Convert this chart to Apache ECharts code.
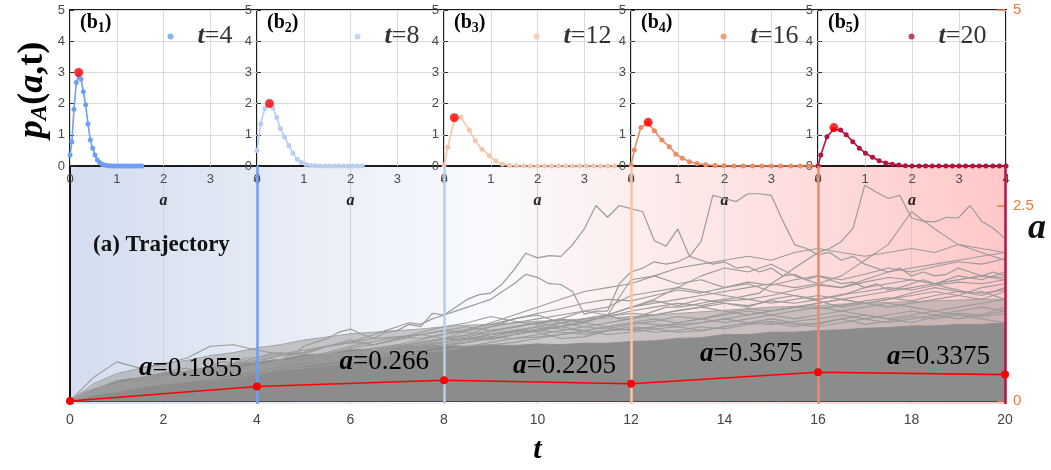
<!DOCTYPE html>
<html><head><meta charset="utf-8">
<script src="https://cdn.jsdelivr.net/npm/echarts@6/dist/echarts.min.js"></script>
<style>html,body{margin:0;padding:0;background:#fff}#c{width:1051px;height:470px}</style>
</head><body><div id="c"></div>
<script>
// ---------- DATA ----------
const tVals = [0,0.5,1,1.5,2,2.5,3,3.5,4,4.5,5,5.5,6,6.5,7,7.5,8,8.5,9,9.5,10,10.5,11,11.5,12,12.5,13,13.5,14,14.5,15,15.5,16,16.5,17,17.5,18,18.5,19,19.5,20];
const tFine = [0,0.25,0.5,0.75,1,1.25,1.5,1.75,2,2.25,2.5,2.75,3,3.25,3.5,3.75,4,4.25,4.5,4.75,5,5.25,5.5,5.75,6,6.25,6.5,6.75,7,7.25,7.5,7.75,8,8.25,8.5,8.75,9,9.25,9.5,9.75,10,10.25,10.5,10.75,11,11.25,11.5,11.75,12,12.25,12.5,12.75,13,13.25,13.5,13.75,14,14.25,14.5,14.75,15,15.25,15.5,15.75,16,16.25,16.5,16.75,17,17.25,17.5,17.75,18,18.25,18.5,18.75,19,19.25,19.5,19.75,20];
// edges of the dense and semi-dense bundles of trajectories
const denseTop = [0,0.14,0.26,0.3,0.36,0.38,0.44,0.46,0.5,0.53,0.59,0.6,0.66,0.66,0.69,0.7,0.71,0.7,0.72,0.71,0.73,0.72,0.74,0.74,0.76,0.77,0.8,0.81,0.85,0.85,0.88,0.88,0.9,0.91,0.93,0.94,0.96,0.96,0.98,0.98,1.0];
const midTop = [0,0.22,0.35,0.42,0.48,0.52,0.58,0.62,0.68,0.72,0.78,0.82,0.86,0.88,0.9,0.92,0.95,0.97,0.98,1.0,1.02,1.03,1.05,1.06,1.08,1.1,1.12,1.14,1.16,1.18,1.2,1.21,1.22,1.24,1.25,1.26,1.27,1.28,1.29,1.3,1.3];
// prominent trajectories (0.25 time step)
const trajA = [0,0.1,0.15,0.2, 0.25,0.22,0.3,0.32, 0.35,0.4,0.42,0.38, 0.45,0.5,0.48,0.55, 0.55,0.6,0.62,0.58, 0.7,0.75,0.8,0.88, 0.92,0.85,0.8,0.88, 0.9,0.98,0.95,1.12, 1.1,1.2,1.3,1.36, 1.38,1.5,1.68,1.89, 1.83,1.86,1.85,2.0, 2.2,2.5,2.35,2.5, 2.46,2.42,2.05,1.98, 2.2,1.85,1.8,1.75, 1.78,1.7,1.72,1.65, 1.7,1.6,1.62,1.55, 1.6,1.55,1.5,1.52, 1.45,1.5,1.42,1.45, 1.5,1.55,1.5,1.45, 1.42,1.38,1.4,1.35, 1.3];
const trajB = [0,0.08,0.12,0.18, 0.2,0.25,0.22,0.28, 0.3,0.32,0.38,0.35, 0.4,0.42,0.45,0.5, 0.48,0.55,0.52,0.6, 0.6,0.65,0.7,0.72, 0.75,0.8,0.85,0.9, 0.95,1.0,0.98,1.05, 1.1,1.15,1.2,1.25, 1.3,1.4,1.5,1.62, 1.58,1.5,1.49,1.4, 1.11,1.15,1.15,1.5, 1.65,1.7,1.78,1.75, 1.78,1.85,2.04,2.63, 2.59,2.55,2.65,2.65, 2.63,2.3,2.0,1.95, 1.87,1.9,1.8,1.85, 1.75,1.7,1.65,1.7, 1.6,1.65,1.6,1.62, 1.7,1.65,1.6,1.65, 1.6];
const trajE = [0,0.06,0.1,0.15, 0.18,0.2,0.22,0.25, 0.28,0.26,0.3,0.32, 0.33,0.36,0.38,0.4, 0.42,0.44,0.45,0.48, 0.5,0.52,0.55,0.58, 0.6,0.58,0.62,0.65, 0.65,0.68,0.7,0.72, 0.75,0.78,0.8,0.82, 0.85,0.88,0.9,0.92, 0.95,0.98,1.0,1.02, 1.05,1.08,1.1,1.05, 1.05,1.1,1.15,1.2, 1.2,1.22,1.25,1.28, 1.3,1.32,1.35,1.38, 1.5,1.6,1.7,1.8, 1.9,1.95,2.04,2.21, 2.76,2.67,2.59,2.63, 2.34,2.3,2.29,2.35, 2.34,2.5,2.3,2.21, 2.08];
// further visible trajectories (0.5 time step)
const trajF = [0,0.08,0.15,0.2,0.25,0.3,0.35,0.38,0.4,0.45,0.5,0.52,0.55,0.6,0.65,0.7,0.72,0.75,0.8,0.85,0.9,1.0,1.05,1.1,1.2,1.25,1.3,1.35,1.4,1.45,1.5,1.45,1.5,1.6,1.8,2.0,2.42,2.2,2.0,1.9,1.8];
const trajG = [0,0.1,0.15,0.2,0.25,0.3,0.32,0.35,0.4,0.45,0.5,0.55,0.6,0.65,0.7,0.75,0.8,0.9,1.0,1.1,1.2,1.3,1.4,1.45,1.5,1.6,1.7,1.75,1.8,1.85,1.8,1.9,1.95,1.9,1.85,1.9,1.95,1.9,2.0,1.95,1.9];
const trajH = [0,0.12,0.2,0.25,0.3,0.33,0.38,0.42,0.45,0.5,0.55,0.6,0.62,0.65,0.7,0.72,0.75,0.8,0.85,0.88,0.9,0.95,1.0,1.1,1.55,1.6,1.5,1.55,1.45,1.5,1.4,1.35,1.3,1.35,1.45,1.5,1.55,1.5,1.6,1.55,1.65];
const trajI = [0,0.1,0.18,0.22,0.28,0.32,0.35,0.4,0.45,0.48,0.52,0.58,0.62,0.68,0.72,0.78,0.85,0.9,0.95,1.0,1.05,1.1,1.15,1.2,1.35,1.4,1.45,1.4,1.35,1.3,1.25,1.3,1.35,1.3,1.25,1.2,1.25,1.3,1.35,1.3,1.4];
const trajJ = [0,0.1,0.15,0.2,0.22,0.25,0.3,0.35,0.4,0.45,0.5,0.55,0.6,0.62,0.7,0.75,0.8,0.85,0.95,1.05,1.1,1.0,0.95,1.0,1.05,1.1,1.15,1.2,1.15,1.1,1.15,1.2,1.25,1.3,1.35,1.4,1.45,1.5,1.55,1.6,1.55];
const trajK = [0,0.08,0.12,0.18,0.22,0.25,0.28,0.3,0.35,0.4,0.42,0.45,0.5,0.55,0.6,0.62,0.65,0.7,0.72,0.75,0.8,0.85,0.9,0.95,1.0,1.05,1.0,1.05,1.1,1.15,1.1,1.05,1.1,1.15,1.2,1.25,1.2,1.15,1.2,1.25,1.3];
const trajL = [0,0.1,0.16,0.2,0.25,0.3,0.35,0.38,0.42,0.48,0.55,0.6,0.68,0.72,0.78,0.85,0.9,0.95,0.9,0.95,1.0,1.05,1.0,0.95,0.9,0.95,1.0,1.05,1.0,1.05,1.1,1.15,1.2,1.15,1.1,1.05,1.1,1.15,1.1,1.05,1.0];
const trajM = [0,0.1,0.14,0.18,0.22,0.26,0.3,0.34,0.38,0.42,0.46,0.5,0.54,0.58,0.62,0.66,0.7,0.75,0.8,0.85,0.9,0.95,1.0,1.1,1.2,1.3,1.45,1.6,1.7,1.65,1.75,1.6,1.5,1.45,1.55,1.65,1.7,1.75,1.8,1.85,1.9];
const trajN = [0,0.12,0.22,0.28,0.32,0.38,0.42,0.48,0.55,0.6,0.65,0.7,0.75,0.8,0.82,0.85,0.9,0.88,0.85,0.9,0.95,0.92,0.9,0.95,1.0,0.98,0.95,1.0,1.05,1.0,0.98,1.02,1.05,1.1,1.05,1.0,1.05,1.1,1.15,1.2,1.15];
const trajO = [0,0.1,0.18,0.22,0.25,0.28,0.32,0.36,0.4,0.45,0.48,0.52,0.58,0.65,0.7,0.72,0.78,0.82,0.88,0.95,1.0,0.95,0.9,0.85,0.88,0.92,0.95,0.9,0.95,1.0,1.02,0.98,0.95,1.0,1.05,1.1,1.15,1.1,1.05,1.1,1.2];
const trajP = [0,0.1,0.15,0.2,0.24,0.28,0.3,0.34,0.38,0.4,0.45,0.5,0.52,0.55,0.6,0.62,0.65,0.7,0.75,0.8,0.82,0.85,0.88,0.9,0.92,0.95,0.98,1.0,1.05,1.1,1.15,1.2,1.25,1.3,1.25,1.3,1.35,1.4,1.35,1.45,1.5];
const trajQ = [0,0.3,0.5,0.42,0.47,0.55,0.7,0.72,0.65,0.6,0.62,0.7,0.75,0.72,0.8,0.85,0.8,0.78,0.85,0.9,0.88,0.8,0.82,0.9,0.95,0.92,0.88,0.9,0.95,1.0,1.05,1.0,0.98,1.05,1.1,1.05,1.0,1.08,1.12,1.1,1.15];
const trajR = [0,0.1,0.2,0.3,0.28,0.35,0.4,0.48,0.52,0.58,0.62,0.7,0.78,0.72,0.8,0.88,0.95,1.0,1.08,1.02,0.98,1.05,1.15,1.1,1.2,1.28,1.22,1.3,1.25,1.2,1.3,1.35,1.28,1.2,1.25,1.3,1.38,1.45,1.4,1.35,1.45];
const trajS = [0,0.12,0.18,0.25,0.3,0.36,0.4,0.38,0.44,0.5,0.55,0.6,0.58,0.66,0.72,0.7,0.75,0.8,0.78,0.85,0.9,0.88,0.85,0.9,0.92,0.88,0.9,0.95,0.92,0.98,1.0,0.95,1.0,1.05,0.98,1.02,1.08,1.05,1.1,1.08,1.12];
const trajT = [0,0.1,0.14,0.2,0.26,0.3,0.34,0.4,0.46,0.5,0.56,0.62,0.7,0.76,0.82,0.8,0.86,0.92,0.98,1.05,1.12,1.18,1.25,1.3,1.28,1.35,1.42,1.38,1.45,1.52,1.48,1.55,1.6,1.55,1.62,1.7,1.65,1.72,1.78,1.75,1.82];
const trajU = [0,0.08,0.15,0.18,0.24,0.3,0.35,0.4,0.45,0.52,0.5,0.58,0.62,0.6,0.68,0.75,0.8,0.78,0.82,0.88,0.92,0.96,1.02,1.08,1.15,1.2,1.25,1.22,1.28,1.3,1.35,1.42,1.48,1.45,1.52,1.58,1.55,1.5,1.55,1.6,1.58];
const trajV = [0,0.15,0.2,0.24,0.3,0.32,0.38,0.42,0.4,0.45,0.5,0.55,0.6,0.65,0.62,0.68,0.72,0.78,0.82,0.8,0.85,0.9,0.95,0.92,0.98,1.02,1.08,1.05,1.12,1.18,1.15,1.2,1.18,1.22,1.28,1.32,1.28,1.35,1.4,1.38,1.42];
const trajW = [0,0.1,0.16,0.22,0.28,0.3,0.32,0.36,0.42,0.46,0.5,0.54,0.6,0.64,0.7,0.74,0.8,0.84,0.9,0.94,1.0,1.04,1.02,1.08,1.12,1.1,1.16,1.2,1.25,1.22,1.28,1.25,1.3,1.36,1.4,1.45,1.42,1.48,1.52,1.5,1.55];

// mode of the distribution at the sampled times
const sampleTimes = [4, 8, 12, 16, 20];
const modeValues = [0.1855, 0.266, 0.2205, 0.3675, 0.3375];
const sampleColors = ['#6f9ef7', '#b8cdf2', '#f6c5a9', '#ef8a62', '#b4143e'];

// inset distributions p_A(a,t)
const inset1A = [0,0.04,0.085,0.135,0.185,0.235,0.285,0.335,0.385,0.435,0.485,0.535,0.585,0.635,0.685,0.735,0.785,0.835,0.885,0.935,0.985,1.035,1.085,1.135,1.185,1.235,1.285,1.335,1.385,1.435,1.485,1.535];
const inset1P = [0.35,0.78,1.82,2.68,2.88,2.79,2.38,1.96,1.35,0.83,0.57,0.35,0.19,0.11,0.06,0.03,0.015,0.01,0,0,0,0,0,0,0,0,0,0,0,0,0,0];
const inset2A = [0,0.08,0.17,0.26,0.34,0.42,0.5,0.59,0.68,0.77,0.86,0.95,1.05,1.15,1.25,1.35,1.45,1.55,1.65,1.75,1.85,1.95,2.05,2.15,2.25];
const inset2P = [0.5,1.35,1.85,1.98,1.86,1.56,1.2,0.93,0.66,0.41,0.22,0.11,0.05,0.02,0.01,0,0,0,0,0,0,0,0,0,0];
const inset3A = [0,0.08,0.22,0.36,0.54,0.67,0.81,0.97,1.11,1.25,1.4,1.55,1.7,1.85,2.0,2.15,2.3,2.45,2.6,2.75,2.9,3.05,3.2,3.35,3.5,3.65];
const inset3P = [0.03,0.6,1.5,1.56,1.15,0.81,0.54,0.33,0.16,0.06,0.02,0.01,0,0,0,0,0,0,0,0,0,0,0,0,0,0];
const inset4A = [0,0.07,0.21,0.36,0.5,0.66,0.82,0.96,1.1,1.25,1.41,1.6,1.8,1.99,2.2,2.4,2.6,2.8,3.0,3.2,3.42,3.62,3.81,4.0];
const inset4P = [0.03,0.51,1.23,1.38,1.13,0.83,0.62,0.38,0.25,0.14,0.08,0.04,0.02,0.01,0,0,0,0,0,0,0,0,0,0];
const inset5A = [0,0.06,0.19,0.33,0.48,0.6,0.74,0.88,1.01,1.16,1.3,1.44,1.58,1.72,1.86,2.0,2.15,2.29,2.43,2.57,2.72,2.86,3.0,3.14,3.29,3.43,3.57,3.72,3.86,4.0];
const inset5P = [0,0.35,0.94,1.17,1.15,1.0,0.78,0.57,0.41,0.28,0.17,0.1,0.06,0.03,0.01,0,0,0,0,0,0,0,0,0,0,0,0,0,0,0];
const peakP = [3.0, 2.0, 1.55, 1.4, 1.23];
const legendA = [2.15, 2.15, 1.98, 1.98, 1.99];
const legendP = [4.15, 4.15, 4.15, 4.15, 4.15];
const insetTags = ['1', '2', '3', '4', '5'];

const mainXTicks = [0, 20, 2];
const rightYTicks = [0, 5, 2.5];

// ---------- CHART ----------
const SERIF = "'Liberation Serif','Times New Roman',serif";
const SANS = "'Liberation Sans',Arial,sans-serif";
const insetA = [inset1A, inset2A, inset3A, inset4A, inset5A];
const insetP = [inset1P, inset2P, inset3P, inset4P, inset5P];
const fineTrajs = [trajA, trajB, trajE];
const coarseTrajs = [trajF, trajG, trajH, trajI, trajJ, trajK, trajL, trajM, trajN, trajO, trajP, trajQ, trajR, trajS, trajT, trajU, trajV, trajW];

const chart = echarts.init(document.getElementById('c'));
const grids = [
  { left: 70, right: 46, top: 166, bottom: 66, show: true, borderWidth: 0,
    backgroundColor: new echarts.graphic.LinearGradient(0, 0, 1, 0, [
      { offset: 0, color: '#d3ddef' }, { offset: 0.45, color: '#f9fafd' },
      { offset: 0.6, color: '#fdeeee' }, { offset: 1, color: '#ffc8c8' }]) },
  { left: 70, right: 46, top: 10, bottom: 66 }
];
const xAxes = [
  { gridIndex: 0, type: 'value', min: mainXTicks[0], max: mainXTicks[1], interval: mainXTicks[2],
    axisLine: { show: false }, axisTick: { show: false }, axisLabel: { show: false },
    splitLine: { show: true, lineStyle: { color: '#cfcfcf', width: 1 } } },
  { gridIndex: 1, type: 'value', min: mainXTicks[0], max: mainXTicks[1], interval: mainXTicks[2],
    axisLine: { show: true, onZero: false, lineStyle: { color: '#4a4a4a', width: 2 } },
    axisTick: { show: true, inside: true, length: 4, lineStyle: { color: '#4a4a4a' } },
    axisLabel: { color: '#444', fontSize: 14, fontFamily: SANS, margin: 12 },
    splitLine: { show: false },
    name: 't', nameLocation: 'middle', nameGap: 34,
    nameTextStyle: { fontFamily: SERIF, fontSize: 30, fontWeight: 'bold', fontStyle: 'italic', color: '#000' } }
];
const yAxes = [
  { gridIndex: 0, type: 'value', min: 0, max: 1, position: 'left',
    axisLine: { show: true, onZero: false, lineStyle: { color: '#111', width: 2 } }, axisTick: { show: false },
    axisLabel: { show: false }, splitLine: { show: false } },
  { gridIndex: 1, type: 'value', min: rightYTicks[0], max: rightYTicks[1], interval: rightYTicks[2], position: 'right',
    axisLine: { show: false, onZero: false }, axisTick: { show: true, inside: true, length: 8, lineStyle: { color: '#ee7a3e', width: 1.5 } },
    axisLabel: { color: '#ee7a3e', fontSize: 15, fontFamily: SANS, margin: 8 },
    splitLine: { show: false } }
];
const series = [];
// semi-dense and dense bundles
series.push({ type: 'line', xAxisIndex: 1, yAxisIndex: 1, data: tVals.map((t, i) => [t, midTop[i]]),
  symbol: 'none', lineStyle: { color: '#a3a3a3', width: 1 }, areaStyle: { color: '#a0a0a0', opacity: 0.55 }, z: 2, silent: true });
series.push({ type: 'line', xAxisIndex: 1, yAxisIndex: 1, data: tVals.map((t, i) => [t, denseTop[i]]),
  symbol: 'none', lineStyle: { color: '#8f8f8f', width: 1 }, areaStyle: { color: '#8c8c8c', opacity: 1 }, z: 2, silent: true });
coarseTrajs.forEach(tr => series.push({ type: 'line', xAxisIndex: 1, yAxisIndex: 1,
  data: tVals.map((t, i) => [t, tr[i]]), symbol: 'none', lineStyle: { color: '#9b9b9b', width: 1.1 }, z: 2, silent: true }));
fineTrajs.forEach(tr => series.push({ type: 'line', xAxisIndex: 1, yAxisIndex: 1,
  data: tFine.map((t, i) => [t, tr[i]]), symbol: 'none', lineStyle: { color: '#9b9b9b', width: 1.2 }, z: 2, silent: true }));
// vertical coloured lines at sampled times
series.push({ type: 'line', xAxisIndex: 0, yAxisIndex: 0, data: [], z: 3,
  markLine: { symbol: 'none', silent: true, label: { show: false }, animation: false,
    data: sampleTimes.map((t, i) => ({ xAxis: t, lineStyle: { color: sampleColors[i], width: 2.5, type: 'solid' } })) } });
// red mode line
series.push({ type: 'line', xAxisIndex: 1, yAxisIndex: 1, z: 5,
  data: [[0, 0]].concat(sampleTimes.map((t, i) => [t, modeValues[i]])),
  symbol: 'circle', symbolSize: 8, itemStyle: { color: '#ff0000' }, lineStyle: { color: '#ff0000', width: 1.6 },
  label: { show: true, position: 'left', distance: 5, offset: [-6, -18],
    formatter: p => p.dataIndex === 0 ? '' : '{i|a}{n|=' + modeValues[p.dataIndex - 1] + '}',
    rich: { i: { fontFamily: SERIF, fontSize: 27, fontWeight: 'bold', fontStyle: 'italic', color: '#000' },
            n: { fontFamily: SERIF, fontSize: 27, color: '#000' } } } });

const graphics = [];
for (let k = 0; k < 5; k++) {
  const gi = k + 2;
  grids.push({ left: 70 + 187 * k, width: k === 4 ? 188 : 187, top: 10, height: 156, show: true,
    backgroundColor: '#ffffff', borderColor: '#1c1c1c', borderWidth: 2 });
  xAxes.push({ gridIndex: gi, type: 'value', min: 0, max: 4, interval: 1,
    axisLine: { show: true, lineStyle: { color: '#1c1c1c', width: 1 } }, axisTick: { show: false },
    axisLabel: { color: '#4a4a4a', fontSize: 13, fontFamily: SANS, margin: 7 },
    splitLine: { show: true, lineStyle: { color: '#dadada' } },
    name: 'a', nameLocation: 'middle', nameGap: 27,
    nameTextStyle: { fontFamily: SERIF, fontSize: 16, fontWeight: 'bold', fontStyle: 'italic', color: '#222' } });
  yAxes.push({ gridIndex: gi, type: 'value', min: 0, max: 5, interval: 1,
    axisLine: { show: false, onZero: false }, axisTick: { show: true, inside: true, length: 4, lineStyle: { color: '#333' } },
    axisLabel: { color: '#4a4a4a', fontSize: 13, fontFamily: SANS, margin: 5 },
    splitLine: { show: true, lineStyle: { color: '#dadada' } } });
  series.push({ type: 'line', xAxisIndex: gi, yAxisIndex: gi, z: 4,
    data: insetA[k].map((a, i) => [a, insetP[k][i]]), symbol: 'circle', symbolSize: 5, showAllSymbol: true,
    itemStyle: { color: sampleColors[k] }, lineStyle: { color: sampleColors[k], width: 1.6 } });
  series.push({ type: 'scatter', xAxisIndex: gi, yAxisIndex: gi, z: 6,
    data: [[modeValues[k], peakP[k]]], symbolSize: 9, itemStyle: { color: '#ff0000' } });
  series.push({ type: 'scatter', xAxisIndex: gi, yAxisIndex: gi, z: 6,
    data: [[legendA[k], legendP[k]]], symbolSize: 6, itemStyle: { color: sampleColors[k] },
    label: { show: true, position: 'right', distance: 24, formatter: '{i|t}{n|=' + sampleTimes[k] + '}',
      rich: { i: { fontFamily: SERIF, fontSize: 26, fontWeight: 'bold', fontStyle: 'italic', color: '#000' },
              n: { fontFamily: SERIF, fontSize: 26, color: '#000' } } } });
  graphics.push({ type: 'text', left: 80 + 187 * k, top: 13, z: 20,
    style: { text: '{b|(b}{s|' + insetTags[k] + '}{b|)}',
      rich: { b: { fontFamily: SERIF, fontSize: 20, fontWeight: 'bold', color: '#222', lineHeight: 24 },
              s: { fontFamily: SERIF, fontSize: 14, fontWeight: 'bold', color: '#222', lineHeight: 14, verticalAlign: 'bottom' } } } });
}
graphics.push({ type: 'text', x: 33, y: 90, rotation: Math.PI / 2, z: 20,
  style: { text: '{p|p}{s|A}{b|(}{p|a}{b|,t)}', align: 'center', verticalAlign: 'middle',
    rich: { p: { fontFamily: SERIF, fontSize: 36, fontWeight: 'bold', fontStyle: 'italic', color: '#111', lineHeight: 38 },
            s: { fontFamily: SERIF, fontSize: 23, fontWeight: 'bold', fontStyle: 'italic', color: '#111', lineHeight: 22, verticalAlign: 'bottom' },
            b: { fontFamily: SERIF, fontSize: 36, fontWeight: 'bold', color: '#111', lineHeight: 38 } } } });
graphics.push({ type: 'text', left: 93, top: 234, z: 20,
  style: { text: '(a) Trajectory', font: "bold 23px 'Liberation Serif'", fill: '#111' } });
graphics.push({ type: 'text', x: 1037, y: 229, z: 20,
  style: { text: 'a', align: 'center', verticalAlign: 'middle', font: "italic bold 36px 'Liberation Serif'", fill: '#111' } });

chart.setOption({
  animation: false, backgroundColor: '#ffffff',
  grid: grids, xAxis: xAxes, yAxis: yAxes, series: series, graphic: graphics
});
</script></body></html>
